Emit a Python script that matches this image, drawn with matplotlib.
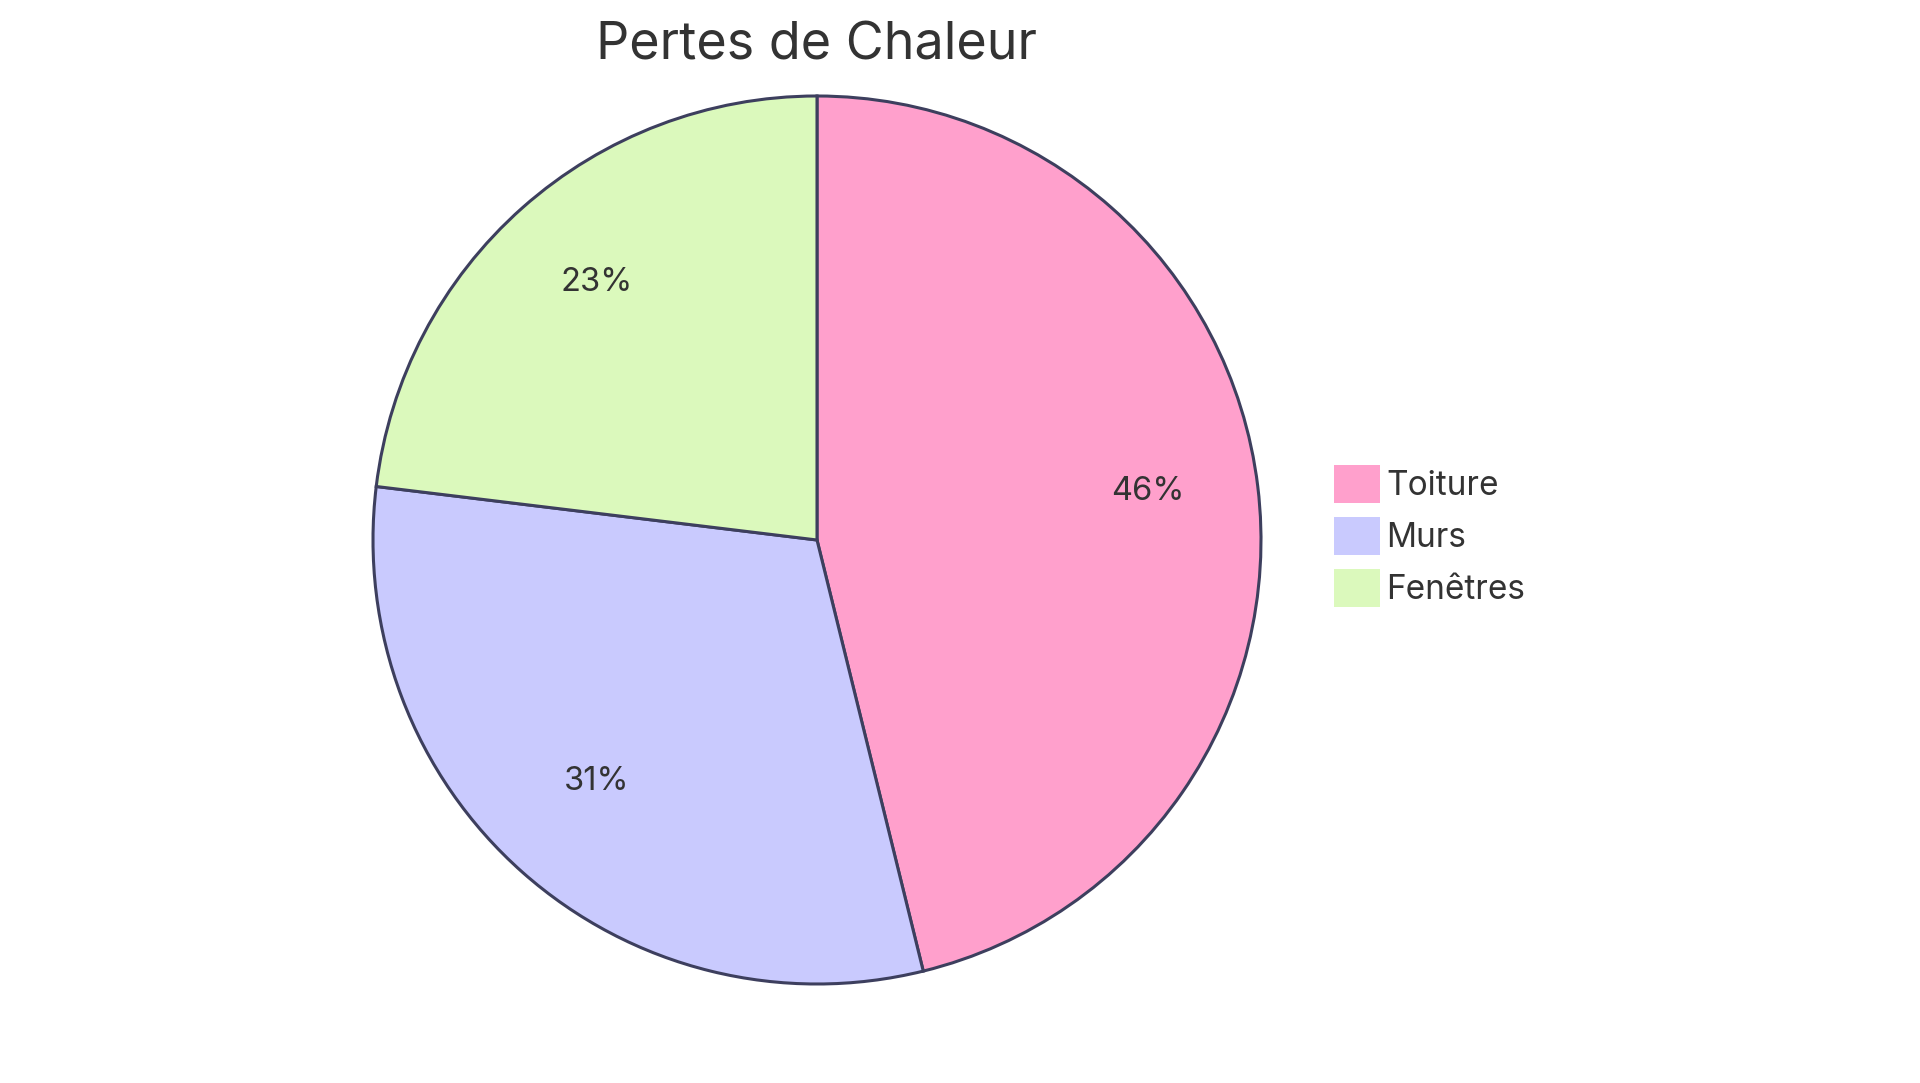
import matplotlib.pyplot as plt
from matplotlib.patches import Patch
from matplotlib.transforms import offset_copy

plt.rcParams['font.family'] = ['Inter', 'DejaVu Sans']

# data
labels = ['Toiture', 'Murs', 'Fenêtres']
values = [30, 20, 15]
colors = ['#FFA0CC', '#C9CAFE', '#DBF9BC']
title = 'Pertes de Chaleur'

W, H = 1920, 1083
fig = plt.figure(figsize=(W / 100, H / 100), dpi=100)

# pie box in pixels
cx, cy, r = 817, 540, 444
ax = fig.add_axes([(cx - r) / W, (H - cy - r) / H, 2 * r / W, 2 * r / H])

wedges, texts, autotexts = ax.pie(
    values, colors=colors, startangle=90, counterclock=False,
    radius=1, autopct='%1.0f%%', pctdistance=0.75,
    wedgeprops=dict(edgecolor='#3D3F5E', linewidth=2.2),
    textprops=dict(color='#333333', fontsize=23.5))
ax.set_xlim(-1, 1)
ax.set_ylim(-1, 1)
ax.set_aspect('equal')
ax.axis('off')
# nudge the labels up a little, matplotlib centres on the full line box
for t in autotexts:
    t.set_transform(offset_copy(ax.transData, fig=fig, y=8, units='dots'))

fig.text(cx / W, 1 - 59 / H, title, ha='center', va='baseline',
         fontsize=37.5, color='#333333')

handles = [Patch(facecolor=c, edgecolor='none') for c in colors]
leg = fig.legend(handles, labels, loc='upper left',
                 bbox_to_anchor=(1334 / W, 1 - 465 / H),
                 frameon=False, fontsize=24, handlelength=1.38,
                 handleheight=1.38, handletextpad=0.18, labelspacing=0.42,
                 borderpad=0, borderaxespad=0)
for t in leg.get_texts():
    t.set_color('#333333')

fig.savefig('out.png', dpi=100)
